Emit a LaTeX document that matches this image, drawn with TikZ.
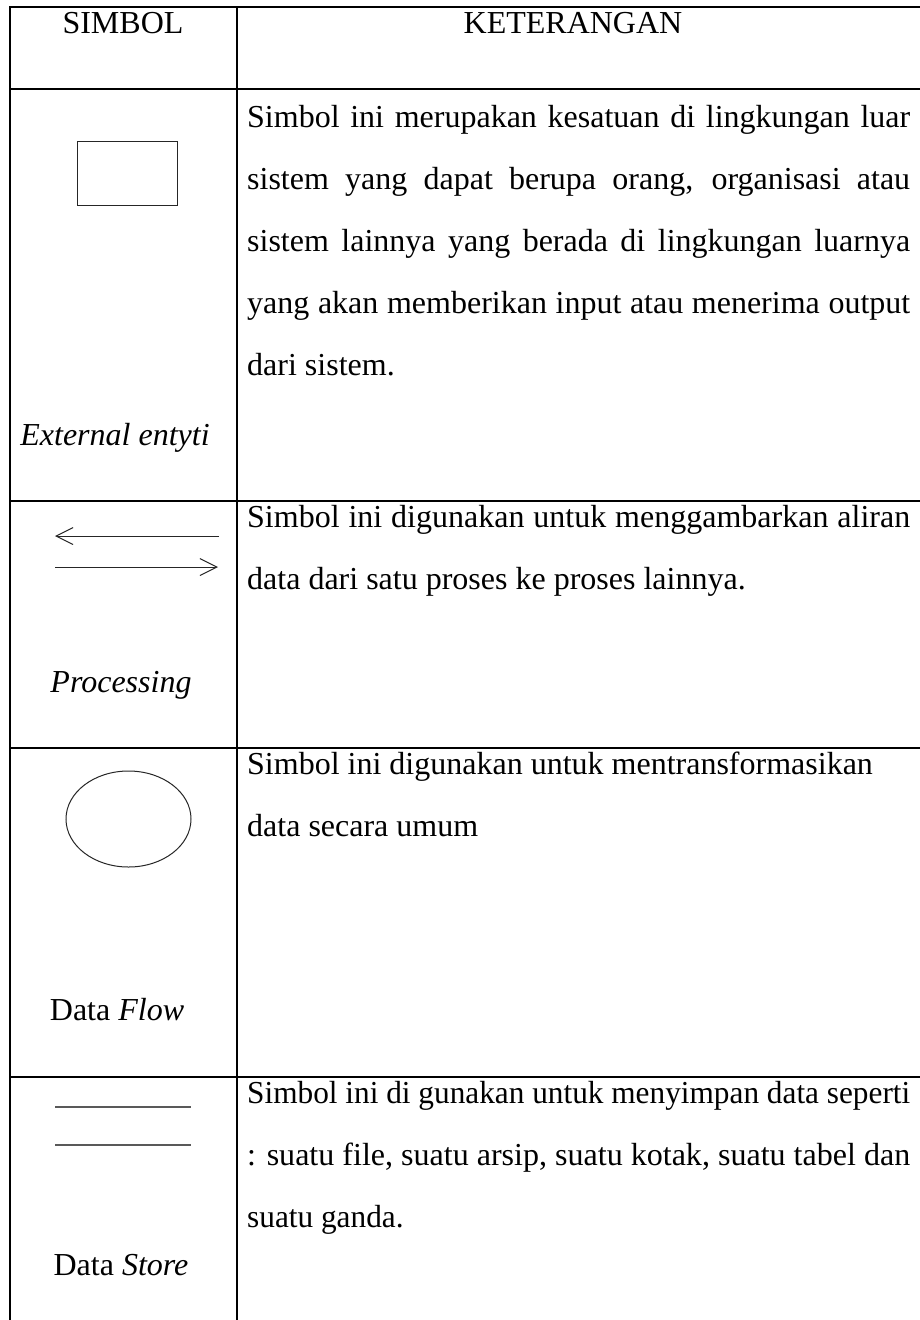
\documentclass[tikz,border=0pt]{standalone}
\usepackage{fontspec}
\setmainfont{Liberation Serif}
\usetikzlibrary{arrows.meta,shapes.geometric}
\newcommand\bodyfont{\fontsize{32}{36}\selectfont}
\newsavebox\RowFourBox
\begin{document}
\sbox\RowFourBox{\bodyfont Simbol ini di gunakan untuk menyimpan data seperti}%
\pgfmathsetmacro\sx{663/\the\wd\RowFourBox}%
\begin{tikzpicture}[x=1pt,y=-1pt,
  gridline/.style={line width=2pt,black},
  symline/.style={line width=1pt,black!85},
  storeline/.style={line width=1.6pt,black!65},
  txt/.style={inner sep=0pt,anchor=base west,font=\bodyfont},
  lab/.style={inner sep=0pt,anchor=base,font=\bodyfont},
  chev/.style={-{Straight Barb[length=17pt,width=17pt,line width=1pt]}}]
\useasboundingbox[fill=white] (0,0) rectangle (920,1320);
% table grid
\draw[gridline] (10,1320) -- (10,7) -- (920,7);
\draw[gridline] (237,7) -- (237,1320);
\draw[gridline] (10,89) -- (920,89);
\draw[gridline] (10,501) -- (920,501);
\draw[gridline] (10,748) -- (920,748);
\draw[gridline] (10,1077) -- (920,1077);
% header
\node[lab] (h1) at (123,33) {SIMBOL};
\node[lab] (h2) at (573,33) {KETERANGAN};
% row 1
\node[draw,symline,minimum width=100pt,minimum height=64pt,inner sep=0pt] (ee) at (127,173) {};
\node[lab] (l1) at (115,445) {\itshape External entyti};
\node[txt] (t11) at (247,127) {\makebox[663pt][s]{Simbol ini merupakan kesatuan di lingkungan luar}};
\node[txt] (t12) at (247,189) {\makebox[663pt][s]{sistem yang dapat berupa orang, organisasi atau}};
\node[txt] (t13) at (247,251) {\makebox[663pt][s]{sistem lainnya yang berada di lingkungan luarnya}};
\node[txt] (t14) at (247,313) {\makebox[663pt][s]{yang akan memberikan input atau menerima output}};
\node[txt] (t15) at (247,375) {dari sistem.};
% row 2
\coordinate (a1s) at (219,536); \coordinate (a1e) at (55,536);
\coordinate (a2s) at (55,567); \coordinate (a2e) at (218,567);
\draw[symline,chev] (a1s) -- (a1e);
\draw[symline,chev] (a2s) -- (a2e);
\node[lab] (l2) at (121,692) {\itshape Processing};
\node[txt] (t21) at (247,527) {\makebox[663pt][s]{Simbol ini digunakan untuk menggambarkan aliran}};
\node[txt] (t22) at (247,589) {data dari satu proses ke proses lainnya.};
% row 3
\node[draw,symline,ellipse,minimum width=125pt,minimum height=96pt,inner sep=0pt] (df) at (128.5,819) {};
\node[lab] (l3) at (117,1020) {Data \textit{Flow}};
\node[txt] (t31) at (247,774) {Simbol ini digunakan untuk mentransformasikan};
\node[txt] (t32) at (247,836) {data secara umum};
% row 4
\coordinate (s1a) at (55,1107); \coordinate (s1b) at (191,1107);
\coordinate (s2a) at (55,1145); \coordinate (s2b) at (191,1145);
\draw[storeline] (s1a) -- (s1b);
\draw[storeline] (s2a) -- (s2b);
\node[lab] (l4) at (121,1275) {Data \textit{Store}};
\node[txt] (t41) at (247,1103) {\resizebox{663pt}{\height}{Simbol ini di gunakan untuk menyimpan data seperti}};
\node[txt] (t42) at (247,1165) {\resizebox{663pt}{\height}{: suatu file, suatu arsip, suatu kotak, suatu tabel dan}};
\node[txt] (t43) at (247,1227) {\scalebox{\sx}[1]{suatu ganda.}};
\end{tikzpicture}
\end{document}
